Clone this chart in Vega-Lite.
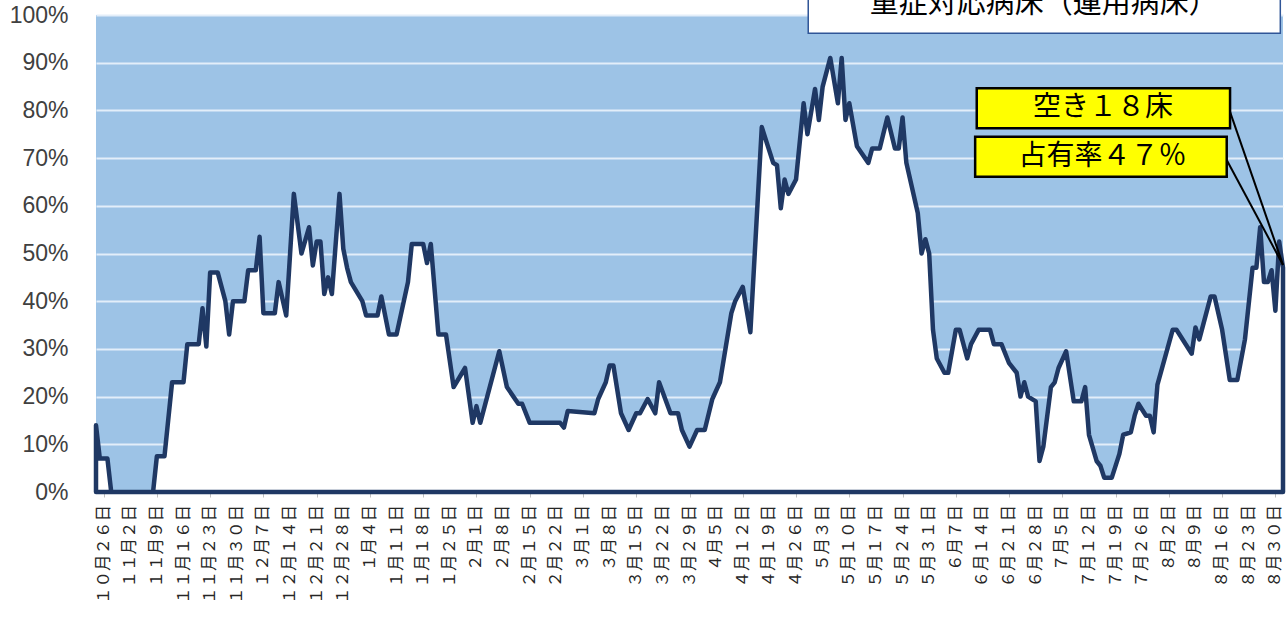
{
  "$schema": "https://vega.github.io/schema/vega-lite/v6.json",
  "width": 1187,
  "height": 477,
  "autosize": {"type": "none"},
  "padding": {"left": 96, "top": 15, "right": 4, "bottom": 127},
  "background": "white",
  "view": {"fill": "#9DC3E6", "stroke": null},
  "config": {"font": "Noto Sans CJK JP"},
  "layer": [
    {
      "data": {"values": [
        {"date": "2020-10-24", "rate": 0.14},
        {"date": "2020-10-25", "rate": 0.07},
        {"date": "2020-10-27", "rate": 0.07},
        {"date": "2020-10-28", "rate": 0},
        {"date": "2020-11-08", "rate": 0},
        {"date": "2020-11-09", "rate": 0.075},
        {"date": "2020-11-11", "rate": 0.075},
        {"date": "2020-11-13", "rate": 0.23},
        {"date": "2020-11-16", "rate": 0.23},
        {"date": "2020-11-17", "rate": 0.31},
        {"date": "2020-11-20", "rate": 0.31},
        {"date": "2020-11-21", "rate": 0.385},
        {"date": "2020-11-22", "rate": 0.305},
        {"date": "2020-11-23", "rate": 0.46},
        {"date": "2020-11-25", "rate": 0.46},
        {"date": "2020-11-27", "rate": 0.40},
        {"date": "2020-11-28", "rate": 0.33},
        {"date": "2020-11-29", "rate": 0.40},
        {"date": "2020-12-02", "rate": 0.40},
        {"date": "2020-12-03", "rate": 0.465},
        {"date": "2020-12-05", "rate": 0.465},
        {"date": "2020-12-06", "rate": 0.535},
        {"date": "2020-12-07", "rate": 0.375},
        {"date": "2020-12-10", "rate": 0.375},
        {"date": "2020-12-11", "rate": 0.44},
        {"date": "2020-12-13", "rate": 0.37},
        {"date": "2020-12-15", "rate": 0.625},
        {"date": "2020-12-17", "rate": 0.50},
        {"date": "2020-12-19", "rate": 0.555},
        {"date": "2020-12-20", "rate": 0.475},
        {"date": "2020-12-21", "rate": 0.525},
        {"date": "2020-12-22", "rate": 0.525},
        {"date": "2020-12-23", "rate": 0.415},
        {"date": "2020-12-24", "rate": 0.45},
        {"date": "2020-12-25", "rate": 0.415},
        {"date": "2020-12-27", "rate": 0.625},
        {"date": "2020-12-28", "rate": 0.51},
        {"date": "2020-12-29", "rate": 0.47},
        {"date": "2020-12-30", "rate": 0.44},
        {"date": "2021-01-02", "rate": 0.40},
        {"date": "2021-01-03", "rate": 0.37},
        {"date": "2021-01-06", "rate": 0.37},
        {"date": "2021-01-07", "rate": 0.41},
        {"date": "2021-01-09", "rate": 0.33},
        {"date": "2021-01-11", "rate": 0.33},
        {"date": "2021-01-14", "rate": 0.44},
        {"date": "2021-01-15", "rate": 0.52},
        {"date": "2021-01-18", "rate": 0.52},
        {"date": "2021-01-19", "rate": 0.48},
        {"date": "2021-01-20", "rate": 0.52},
        {"date": "2021-01-22", "rate": 0.33},
        {"date": "2021-01-24", "rate": 0.33},
        {"date": "2021-01-26", "rate": 0.22},
        {"date": "2021-01-29", "rate": 0.26},
        {"date": "2021-01-31", "rate": 0.145},
        {"date": "2021-02-01", "rate": 0.18},
        {"date": "2021-02-02", "rate": 0.145},
        {"date": "2021-02-07", "rate": 0.295},
        {"date": "2021-02-09", "rate": 0.22},
        {"date": "2021-02-12", "rate": 0.185},
        {"date": "2021-02-13", "rate": 0.185},
        {"date": "2021-02-15", "rate": 0.145},
        {"date": "2021-02-23", "rate": 0.145},
        {"date": "2021-02-24", "rate": 0.135},
        {"date": "2021-02-25", "rate": 0.17},
        {"date": "2021-03-04", "rate": 0.165},
        {"date": "2021-03-05", "rate": 0.195},
        {"date": "2021-03-07", "rate": 0.23},
        {"date": "2021-03-08", "rate": 0.265},
        {"date": "2021-03-09", "rate": 0.265},
        {"date": "2021-03-11", "rate": 0.165},
        {"date": "2021-03-13", "rate": 0.13},
        {"date": "2021-03-15", "rate": 0.165},
        {"date": "2021-03-16", "rate": 0.165},
        {"date": "2021-03-18", "rate": 0.195},
        {"date": "2021-03-20", "rate": 0.165},
        {"date": "2021-03-21", "rate": 0.23},
        {"date": "2021-03-24", "rate": 0.165},
        {"date": "2021-03-26", "rate": 0.165},
        {"date": "2021-03-27", "rate": 0.13},
        {"date": "2021-03-29", "rate": 0.095},
        {"date": "2021-03-31", "rate": 0.13},
        {"date": "2021-04-02", "rate": 0.13},
        {"date": "2021-04-04", "rate": 0.195},
        {"date": "2021-04-06", "rate": 0.23},
        {"date": "2021-04-09", "rate": 0.375},
        {"date": "2021-04-10", "rate": 0.40},
        {"date": "2021-04-12", "rate": 0.43},
        {"date": "2021-04-14", "rate": 0.335},
        {"date": "2021-04-17", "rate": 0.765},
        {"date": "2021-04-20", "rate": 0.69},
        {"date": "2021-04-21", "rate": 0.685},
        {"date": "2021-04-22", "rate": 0.595},
        {"date": "2021-04-23", "rate": 0.655},
        {"date": "2021-04-24", "rate": 0.625},
        {"date": "2021-04-26", "rate": 0.655},
        {"date": "2021-04-28", "rate": 0.815},
        {"date": "2021-04-29", "rate": 0.75},
        {"date": "2021-05-01", "rate": 0.845},
        {"date": "2021-05-02", "rate": 0.78},
        {"date": "2021-05-03", "rate": 0.85},
        {"date": "2021-05-05", "rate": 0.91},
        {"date": "2021-05-07", "rate": 0.815},
        {"date": "2021-05-08", "rate": 0.91},
        {"date": "2021-05-09", "rate": 0.78},
        {"date": "2021-05-10", "rate": 0.815},
        {"date": "2021-05-12", "rate": 0.725},
        {"date": "2021-05-15", "rate": 0.69},
        {"date": "2021-05-16", "rate": 0.72},
        {"date": "2021-05-18", "rate": 0.72},
        {"date": "2021-05-20", "rate": 0.785},
        {"date": "2021-05-22", "rate": 0.72},
        {"date": "2021-05-23", "rate": 0.72},
        {"date": "2021-05-24", "rate": 0.785},
        {"date": "2021-05-25", "rate": 0.69},
        {"date": "2021-05-28", "rate": 0.585},
        {"date": "2021-05-29", "rate": 0.50},
        {"date": "2021-05-30", "rate": 0.53},
        {"date": "2021-05-31", "rate": 0.50},
        {"date": "2021-06-01", "rate": 0.34},
        {"date": "2021-06-02", "rate": 0.28},
        {"date": "2021-06-04", "rate": 0.25},
        {"date": "2021-06-05", "rate": 0.25},
        {"date": "2021-06-07", "rate": 0.34},
        {"date": "2021-06-08", "rate": 0.34},
        {"date": "2021-06-10", "rate": 0.28},
        {"date": "2021-06-11", "rate": 0.31},
        {"date": "2021-06-13", "rate": 0.34},
        {"date": "2021-06-16", "rate": 0.34},
        {"date": "2021-06-17", "rate": 0.31},
        {"date": "2021-06-19", "rate": 0.31},
        {"date": "2021-06-21", "rate": 0.27},
        {"date": "2021-06-23", "rate": 0.25},
        {"date": "2021-06-24", "rate": 0.20},
        {"date": "2021-06-25", "rate": 0.23},
        {"date": "2021-06-26", "rate": 0.20},
        {"date": "2021-06-28", "rate": 0.19},
        {"date": "2021-06-29", "rate": 0.065},
        {"date": "2021-06-30", "rate": 0.095},
        {"date": "2021-07-02", "rate": 0.22},
        {"date": "2021-07-03", "rate": 0.23},
        {"date": "2021-07-04", "rate": 0.26},
        {"date": "2021-07-06", "rate": 0.295},
        {"date": "2021-07-08", "rate": 0.19},
        {"date": "2021-07-10", "rate": 0.19},
        {"date": "2021-07-11", "rate": 0.22},
        {"date": "2021-07-12", "rate": 0.12},
        {"date": "2021-07-14", "rate": 0.065},
        {"date": "2021-07-15", "rate": 0.055},
        {"date": "2021-07-16", "rate": 0.03},
        {"date": "2021-07-18", "rate": 0.03},
        {"date": "2021-07-20", "rate": 0.08},
        {"date": "2021-07-21", "rate": 0.12},
        {"date": "2021-07-23", "rate": 0.125},
        {"date": "2021-07-24", "rate": 0.16},
        {"date": "2021-07-25", "rate": 0.185},
        {"date": "2021-07-27", "rate": 0.16},
        {"date": "2021-07-28", "rate": 0.16},
        {"date": "2021-07-29", "rate": 0.125},
        {"date": "2021-07-30", "rate": 0.225},
        {"date": "2021-08-03", "rate": 0.34},
        {"date": "2021-08-04", "rate": 0.34},
        {"date": "2021-08-08", "rate": 0.29},
        {"date": "2021-08-09", "rate": 0.345},
        {"date": "2021-08-10", "rate": 0.32},
        {"date": "2021-08-13", "rate": 0.41},
        {"date": "2021-08-14", "rate": 0.41},
        {"date": "2021-08-16", "rate": 0.34},
        {"date": "2021-08-18", "rate": 0.235},
        {"date": "2021-08-20", "rate": 0.235},
        {"date": "2021-08-22", "rate": 0.32},
        {"date": "2021-08-24", "rate": 0.47},
        {"date": "2021-08-25", "rate": 0.47},
        {"date": "2021-08-26", "rate": 0.555},
        {"date": "2021-08-27", "rate": 0.44},
        {"date": "2021-08-28", "rate": 0.44},
        {"date": "2021-08-29", "rate": 0.465},
        {"date": "2021-08-30", "rate": 0.38},
        {"date": "2021-08-31", "rate": 0.525},
        {"date": "2021-09-01", "rate": 0.47}
      ]},
      "mark": {"type": "area", "fill": "white", "stroke": "#1F3864", "strokeWidth": 4.5, "strokeJoin": "round", "strokeCap": "round"},
      "encoding": {
        "x": {
          "field": "date", "type": "temporal",
          "scale": {"type": "utc", "nice": false, "domain": [
            {"year": 2020, "month": 10, "date": 24, "utc": true},
            {"year": 2021, "month": 9, "date": 1, "utc": true}
          ]},
          "axis": {
            "title": null,
            "grid": false,
            "labels": false,
            "values": [
              {"year": 2020, "month": 10, "date": 26, "utc": true},
              {"year": 2020, "month": 11, "date": 2, "utc": true},
              {"year": 2020, "month": 11, "date": 9, "utc": true},
              {"year": 2020, "month": 11, "date": 16, "utc": true},
              {"year": 2020, "month": 11, "date": 23, "utc": true},
              {"year": 2020, "month": 11, "date": 30, "utc": true},
              {"year": 2020, "month": 12, "date": 7, "utc": true},
              {"year": 2020, "month": 12, "date": 14, "utc": true},
              {"year": 2020, "month": 12, "date": 21, "utc": true},
              {"year": 2020, "month": 12, "date": 28, "utc": true},
              {"year": 2021, "month": 1, "date": 4, "utc": true},
              {"year": 2021, "month": 1, "date": 11, "utc": true},
              {"year": 2021, "month": 1, "date": 18, "utc": true},
              {"year": 2021, "month": 1, "date": 25, "utc": true},
              {"year": 2021, "month": 2, "date": 1, "utc": true},
              {"year": 2021, "month": 2, "date": 8, "utc": true},
              {"year": 2021, "month": 2, "date": 15, "utc": true},
              {"year": 2021, "month": 2, "date": 22, "utc": true},
              {"year": 2021, "month": 3, "date": 1, "utc": true},
              {"year": 2021, "month": 3, "date": 8, "utc": true},
              {"year": 2021, "month": 3, "date": 15, "utc": true},
              {"year": 2021, "month": 3, "date": 22, "utc": true},
              {"year": 2021, "month": 3, "date": 29, "utc": true},
              {"year": 2021, "month": 4, "date": 5, "utc": true},
              {"year": 2021, "month": 4, "date": 12, "utc": true},
              {"year": 2021, "month": 4, "date": 19, "utc": true},
              {"year": 2021, "month": 4, "date": 26, "utc": true},
              {"year": 2021, "month": 5, "date": 3, "utc": true},
              {"year": 2021, "month": 5, "date": 10, "utc": true},
              {"year": 2021, "month": 5, "date": 17, "utc": true},
              {"year": 2021, "month": 5, "date": 24, "utc": true},
              {"year": 2021, "month": 5, "date": 31, "utc": true},
              {"year": 2021, "month": 6, "date": 7, "utc": true},
              {"year": 2021, "month": 6, "date": 14, "utc": true},
              {"year": 2021, "month": 6, "date": 21, "utc": true},
              {"year": 2021, "month": 6, "date": 28, "utc": true},
              {"year": 2021, "month": 7, "date": 5, "utc": true},
              {"year": 2021, "month": 7, "date": 12, "utc": true},
              {"year": 2021, "month": 7, "date": 19, "utc": true},
              {"year": 2021, "month": 7, "date": 26, "utc": true},
              {"year": 2021, "month": 8, "date": 2, "utc": true},
              {"year": 2021, "month": 8, "date": 9, "utc": true},
              {"year": 2021, "month": 8, "date": 16, "utc": true},
              {"year": 2021, "month": 8, "date": 23, "utc": true},
              {"year": 2021, "month": 8, "date": 30, "utc": true}
            ],
            "domainColor": "#3A4556",
            "domainWidth": 2,
            "tickColor": "#BFBFBF",
            "tickSize": 5,
            "tickWidth": 1
          }
        },
        "y": {
          "field": "rate", "type": "quantitative",
          "scale": {"domain": [0, 1], "nice": false},
          "axis": {
            "title": null,
            "values": [0, 0.1, 0.2, 0.3, 0.4, 0.5, 0.6, 0.7, 0.8, 0.9, 1],
            "format": ".0%",
            "domain": false,
            "ticks": false,
            "tickSize": 0,
            "labelPadding": 28,
            "labelFont": "Liberation Sans",
            "labelFontSize": 23,
            "labelColor": "#404040",
            "grid": true,
            "gridColor": "#E3EEF9",
            "gridWidth": 2
          }
        }
      }
    },
    {
      "data": {"values": [
        {"date": "2020-10-26", "label": "１０月２６日"},
        {"date": "2020-11-02", "label": "１１月２日"},
        {"date": "2020-11-09", "label": "１１月９日"},
        {"date": "2020-11-16", "label": "１１月１６日"},
        {"date": "2020-11-23", "label": "１１月２３日"},
        {"date": "2020-11-30", "label": "１１月３０日"},
        {"date": "2020-12-07", "label": "１２月７日"},
        {"date": "2020-12-14", "label": "１２月１４日"},
        {"date": "2020-12-21", "label": "１２月２１日"},
        {"date": "2020-12-28", "label": "１２月２８日"},
        {"date": "2021-01-04", "label": "１月４日"},
        {"date": "2021-01-11", "label": "１月１１日"},
        {"date": "2021-01-18", "label": "１月１８日"},
        {"date": "2021-01-25", "label": "１月２５日"},
        {"date": "2021-02-01", "label": "２月１日"},
        {"date": "2021-02-08", "label": "２月８日"},
        {"date": "2021-02-15", "label": "２月１５日"},
        {"date": "2021-02-22", "label": "２月２２日"},
        {"date": "2021-03-01", "label": "３月１日"},
        {"date": "2021-03-08", "label": "３月８日"},
        {"date": "2021-03-15", "label": "３月１５日"},
        {"date": "2021-03-22", "label": "３月２２日"},
        {"date": "2021-03-29", "label": "３月２９日"},
        {"date": "2021-04-05", "label": "４月５日"},
        {"date": "2021-04-12", "label": "４月１２日"},
        {"date": "2021-04-19", "label": "４月１９日"},
        {"date": "2021-04-26", "label": "４月２６日"},
        {"date": "2021-05-03", "label": "５月３日"},
        {"date": "2021-05-10", "label": "５月１０日"},
        {"date": "2021-05-17", "label": "５月１７日"},
        {"date": "2021-05-24", "label": "５月２４日"},
        {"date": "2021-05-31", "label": "５月３１日"},
        {"date": "2021-06-07", "label": "６月７日"},
        {"date": "2021-06-14", "label": "６月１４日"},
        {"date": "2021-06-21", "label": "６月２１日"},
        {"date": "2021-06-28", "label": "６月２８日"},
        {"date": "2021-07-05", "label": "７月５日"},
        {"date": "2021-07-12", "label": "７月１２日"},
        {"date": "2021-07-19", "label": "７月１９日"},
        {"date": "2021-07-26", "label": "７月２６日"},
        {"date": "2021-08-02", "label": "８月２日"},
        {"date": "2021-08-09", "label": "８月９日"},
        {"date": "2021-08-16", "label": "８月１６日"},
        {"date": "2021-08-23", "label": "８月２３日"},
        {"date": "2021-08-30", "label": "８月３０日"}
      ]},
      "mark": {"type": "text", "angle": 270, "align": "right", "baseline": "middle", "font": "Noto Sans CJK JP", "fontSize": 16.5, "color": "#262626"},
      "encoding": {
        "x": {"field": "date", "type": "temporal"},
        "y": {"datum": -0.027, "type": "quantitative"},
        "text": {"field": "label", "type": "nominal"}
      }
    },
    {
      "data": {"values": [{}]},
      "mark": {"type": "rule", "stroke": "black", "strokeWidth": 2},
      "encoding": {
        "x": {"datum": {"year": 2021, "month": 8, "date": 18, "hours": 2, "utc": true}, "type": "temporal"},
        "x2": {"datum": {"year": 2021, "month": 9, "date": 1, "utc": true}},
        "y": {"datum": 0.797, "type": "quantitative"},
        "y2": {"datum": 0.476}
      }
    },
    {
      "data": {"values": [{}]},
      "mark": {"type": "rule", "stroke": "black", "strokeWidth": 2},
      "encoding": {
        "x": {"datum": {"year": 2021, "month": 8, "date": 17, "hours": 5, "utc": true}, "type": "temporal"},
        "x2": {"datum": {"year": 2021, "month": 9, "date": 1, "utc": true}},
        "y": {"datum": 0.696, "type": "quantitative"},
        "y2": {"datum": 0.476}
      }
    },
    {
      "data": {"values": [{}]},
      "mark": {"type": "rect", "fill": "white", "stroke": "#2F5597", "strokeWidth": 1.5},
      "encoding": {
        "x": {"datum": {"year": 2021, "month": 4, "date": 29, "hours": 5, "utc": true}, "type": "temporal"},
        "x2": {"datum": {"year": 2021, "month": 8, "date": 31, "hours": 7, "utc": true}},
        "y": {"datum": 1.2, "type": "quantitative"},
        "y2": {"datum": 0.9616}
      }
    },
    {
      "data": {"values": [{}]},
      "mark": {"type": "text", "text": "重症対応病床（運用病床）", "font": "Noto Sans CJK JP", "fontSize": 29, "color": "black", "align": "center", "baseline": "alphabetic"},
      "encoding": {
        "x": {"datum": {"year": 2021, "month": 6, "date": 30, "hours": 2, "utc": true}, "type": "temporal"},
        "y": {"datum": 1.004, "type": "quantitative"}
      }
    },
    {
      "data": {"values": [{}]},
      "mark": {"type": "rect", "fill": "#FFFF00", "stroke": "black", "strokeWidth": 2.5},
      "encoding": {
        "x": {"datum": {"year": 2021, "month": 6, "date": 12, "hours": 12, "utc": true}, "type": "temporal"},
        "x2": {"datum": {"year": 2021, "month": 8, "date": 18, "hours": 2, "utc": true}},
        "y": {"datum": 0.8463, "type": "quantitative"},
        "y2": {"datum": 0.7625}
      }
    },
    {
      "data": {"values": [{}]},
      "mark": {"type": "rect", "fill": "#FFFF00", "stroke": "black", "strokeWidth": 2.5},
      "encoding": {
        "x": {"datum": {"year": 2021, "month": 6, "date": 12, "hours": 2, "utc": true}, "type": "temporal"},
        "x2": {"datum": {"year": 2021, "month": 8, "date": 17, "hours": 5, "utc": true}},
        "y": {"datum": 0.7449, "type": "quantitative"},
        "y2": {"datum": 0.661}
      }
    },
    {
      "data": {"values": [{}]},
      "mark": {"type": "text", "text": "空き１８床", "font": "Noto Sans CJK JP", "fontSize": 28, "color": "black", "align": "center", "baseline": "middle"},
      "encoding": {
        "x": {"datum": {"year": 2021, "month": 7, "date": 15, "hours": 17, "utc": true}, "type": "temporal"},
        "y": {"datum": 0.8044, "type": "quantitative"}
      }
    },
    {
      "data": {"values": [{}]},
      "mark": {"type": "text", "text": "占有率４７％", "font": "Noto Sans CJK JP", "fontSize": 28, "color": "black", "align": "center", "baseline": "middle"},
      "encoding": {
        "x": {"datum": {"year": 2021, "month": 7, "date": 15, "hours": 14, "utc": true}, "type": "temporal"},
        "y": {"datum": 0.703, "type": "quantitative"}
      }
    }
  ]
}
